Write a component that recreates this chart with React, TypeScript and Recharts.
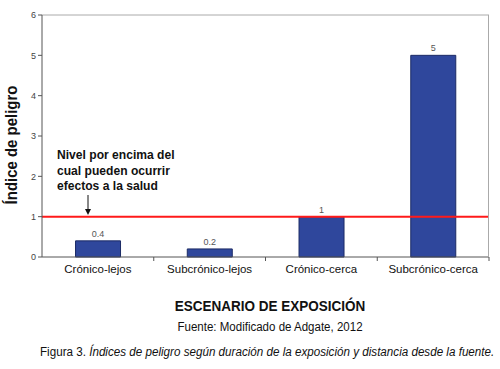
import { BarChart, Bar, XAxis, YAxis, ReferenceLine, LabelList } from 'recharts';

const categories = ['Crónico-lejos', 'Subcrónico-lejos', 'Crónico-cerca', 'Subcrónico-cerca'];
const values = [0.4, 0.2, 1, 5];
const yTicks = [0, 1, 2, 3, 4, 5, 6];
const threshold = 1;

const data = categories.map((name, i) => ({ name, value: values[i] }));

const PLOT_LEFT = 42;
const PLOT_RIGHT = 489;
const BAND = (PLOT_RIGHT - PLOT_LEFT) / categories.length;
const FONT = "'Liberation Sans', Arial, sans-serif";

function CategoryTick(props: any) {
  const { x, y, payload } = props;
  return (
    <g>
      <line x1={x + BAND / 2} y1={y} x2={x + BAND / 2} y2={y + 4} stroke="#555" />
      <text x={x} y={y + 16} textAnchor="middle" fontSize={11.5} fill="#111" fontFamily={FONT}>
        {payload.value}
      </text>
    </g>
  );
}

export default function App() {
  return (
    <div style={{ position: 'absolute', left: 0, top: 0, width: 500, height: 369, background: '#fff', fontFamily: FONT, overflow: 'hidden' }}>
      <BarChart width={500} height={369} data={data} margin={{ top: 15, right: 500 - PLOT_RIGHT, left: 0, bottom: 92 }} barCategoryGap="30%">
        <XAxis dataKey="name" tick={<CategoryTick />} tickLine={false} tickSize={0} tickMargin={0} axisLine={{ stroke: '#555' }} height={20} interval={0} />
        <YAxis
          domain={[0, 6]}
          ticks={yTicks}
          width={PLOT_LEFT}
          tick={{ fontSize: 9, fill: '#444' }}
          tickSize={4}
          tickLine={{ stroke: '#555' }}
          axisLine={{ stroke: '#555' }}
        />
        <ReferenceLine y={6} stroke="#aaa" />
        <Bar dataKey="value" fill="#2F479C" stroke="#1c2b66" isAnimationActive={false}>
          <LabelList dataKey="value" position="top" fontSize={9} fill="#555" offset={4} />
        </Bar>
        <ReferenceLine y={threshold} stroke="#ff1a1a" strokeWidth={2} />
      </BarChart>
      <svg width={500} height={369} style={{ position: 'absolute', left: 0, top: 0, pointerEvents: 'none' }}>
        <line x1={PLOT_RIGHT - 0.5} y1={15} x2={PLOT_RIGHT - 0.5} y2={257} stroke="#aaa" />
        <text transform="translate(17,145) rotate(-90) scale(0.88,1)" textAnchor="middle" fontSize={17} fontWeight="bold" fill="#111" fontFamily={FONT}>
          Índice de peligro
        </text>
        <line x1={88} y1={195} x2={88} y2={211} stroke="#111" strokeWidth={1} />
        <path d="M85,209 L91,209 L88,215 Z" fill="#111" />
      </svg>
      <div style={{ position: 'absolute', left: 57, top: 147, fontSize: 13, fontWeight: 'bold', lineHeight: '15.5px', color: '#111', transform: 'scaleX(0.93)', transformOrigin: 'left top', whiteSpace: 'nowrap' }}>
        Nivel por encima del<br />cual pueden ocurrir<br />efectos a la salud
      </div>
      <div style={{ position: 'absolute', left: 0, width: 540, top: 297, textAlign: 'center', fontSize: 15, fontWeight: 'bold', color: '#111', transform: 'scaleX(0.9)', transformOrigin: '270px 0' }}>
        ESCENARIO DE EXPOSICIÓN
      </div>
      <div style={{ position: 'absolute', left: 0, width: 540, top: 320, textAlign: 'center', fontSize: 12, color: '#111', transform: 'scaleX(0.96)', transformOrigin: '270px 0' }}>
        Fuente: Modificado de Adgate, 2012
      </div>
      <div style={{ position: 'absolute', left: 40, top: 345, fontSize: 12, color: '#111', whiteSpace: 'nowrap', transform: 'scaleX(0.97)', transformOrigin: 'left top' }}>
        Figura 3. <i>Índices de peligro según duración de la exposición y distancia desde la fuente.</i>
      </div>
    </div>
  );
}
